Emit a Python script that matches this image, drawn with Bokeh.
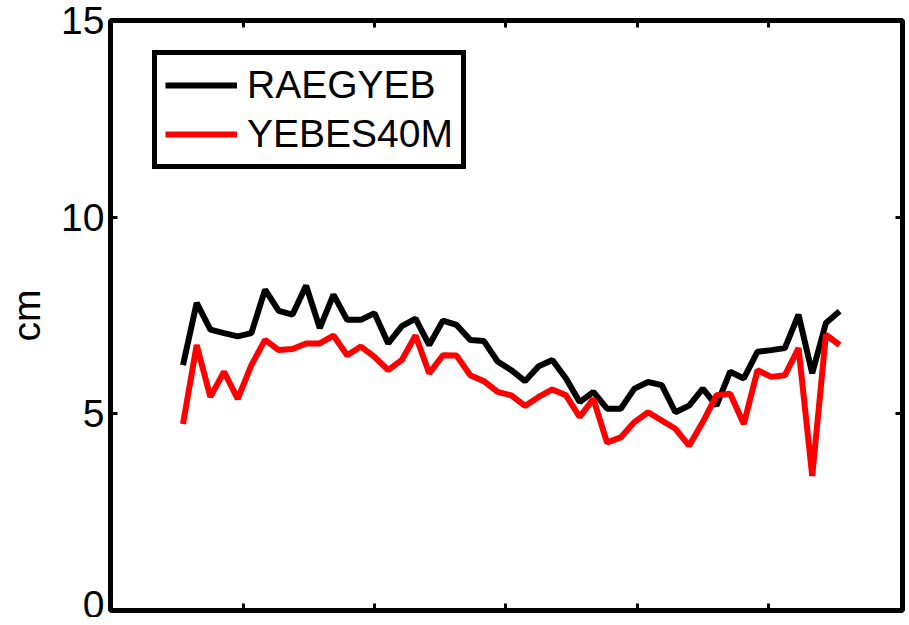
from bokeh.plotting import figure
from bokeh.models import LinearAxis, FixedTicker, Range1d, Legend, LegendItem, ColumnDataSource
from bokeh.embed import file_html
from bokeh.resources import INLINE

# ---- data ----
epoch = list(range(49))
raegyeb = [6.24, 7.82, 7.14, 7.05, 6.97, 7.05, 8.16, 7.62, 7.52, 8.26,
           7.18, 8.03, 7.39, 7.39, 7.56, 6.79, 7.23, 7.42, 6.75, 7.37,
           7.26, 6.88, 6.85, 6.33, 6.11, 5.83, 6.21, 6.37, 5.90, 5.30,
           5.56, 5.13, 5.13, 5.64, 5.81, 5.73, 5.04, 5.21, 5.64, 5.21,
           6.07, 5.90, 6.58, 6.62, 6.67, 7.52, 6.03, 7.31, 7.61]
yebes40m = [4.74, 6.75, 5.43, 6.07, 5.38, 6.24, 6.88, 6.62, 6.65, 6.79,
            6.79, 6.99, 6.49, 6.71, 6.45, 6.11, 6.37, 6.99, 6.03, 6.49,
            6.48, 5.98, 5.83, 5.56, 5.47, 5.20, 5.43, 5.62, 5.47, 4.92,
            5.38, 4.27, 4.40, 4.79, 5.04, 4.83, 4.62, 4.19, 4.79, 5.47,
            5.51, 4.74, 6.11, 5.94, 5.98, 6.67, 3.42, 7.01, 6.75]
x_ticks = [4.4, 14.0, 23.6, 33.2, 42.8]
y_ticks = [0, 5, 10, 15]
series_names = ["RAEGYEB", "YEBES40M"]
y_label = "cm"

FONT = "Liberation Sans"

source = ColumnDataSource(dict(x=epoch, a=raegyeb, b=yebes40m))

p = figure(width=905, height=617, output_backend="svg", toolbar_location=None,
           x_range=Range1d(-5.3, 52.6), y_range=Range1d(0, 15),
           x_axis_location=None, y_axis_location=None,
           min_border_left=110, min_border_top=20, min_border_bottom=7,
           min_border_right=3)
p.background_fill_color = "white"
p.border_fill_color = "white"
p.outline_line_color = "black"
p.outline_line_width = 5
p.outline_line_alpha = 1.0
p.xgrid.visible = False
p.ygrid.visible = False


def styled_axis(ticks, labels=True, label=None):
    ax = LinearAxis(ticker=FixedTicker(ticks=ticks))
    ax.axis_line_color = None
    ax.major_tick_in = 7
    ax.major_tick_out = 0
    ax.major_tick_line_width = 3
    ax.major_tick_line_color = "black"
    ax.minor_tick_line_color = None
    if labels:
        ax.major_label_text_font = FONT
        ax.major_label_text_font_size = "39px"
        ax.major_label_text_color = "black"
        ax.major_label_standoff = 6
    else:
        ax.major_label_overrides = {t: "" for t in ticks}
        ax.major_label_text_font_size = "1px"
        ax.major_label_standoff = 0
    if label:
        ax.axis_label = label
        ax.axis_label_text_font = FONT
        ax.axis_label_text_font_size = "39px"
        ax.axis_label_text_font_style = "normal"
        ax.axis_label_text_color = "black"
        ax.axis_label_standoff = 10
    return ax


p.add_layout(styled_axis(y_ticks, True, y_label), "left")
p.add_layout(styled_axis(y_ticks, False), "right")
p.add_layout(styled_axis(x_ticks, False), "below")
p.add_layout(styled_axis(x_ticks, False), "above")

r1 = p.line("x", "a", source=source, line_color="black", line_width=6)
r2 = p.line("x", "b", source=source, line_color="red", line_width=6)

legend = Legend(items=[LegendItem(label=series_names[0], renderers=[r1]),
                       LegendItem(label=series_names[1], renderers=[r2])],
                location=(42, 441))
legend.label_text_font = FONT
legend.label_text_font_size = "39px"
legend.label_text_color = "black"
legend.glyph_width = 72
legend.glyph_height = 40
legend.label_height = 40
legend.spacing = 5
legend.padding = 8
legend.margin = 0
legend.label_standoff = 10
legend.border_line_color = "black"
legend.border_line_width = 5
legend.border_line_alpha = 1.0
legend.background_fill_color = "white"
legend.background_fill_alpha = 1.0
p.add_layout(legend, "center")

open("out.html", "w").write(file_html(p, INLINE))
